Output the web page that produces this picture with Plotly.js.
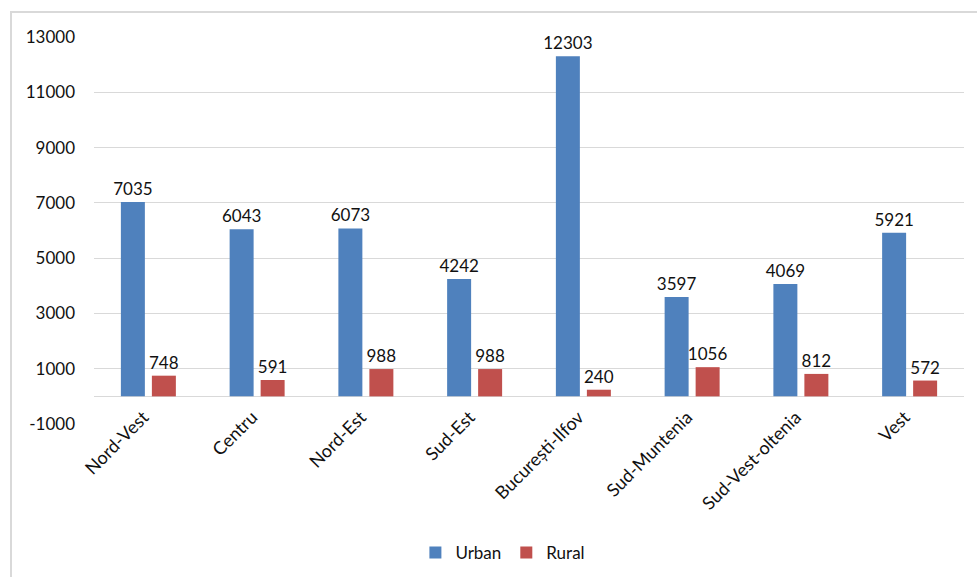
<!DOCTYPE html>
<html>
<head>
<meta charset="utf-8">
<script src="https://cdn.plot.ly/plotly-3.0.1.min.js"></script>
<style>
  html, body { margin: 0; padding: 0; background: #fff; }
  #wrap { position: relative; width: 977px; height: 577px; overflow: hidden; }
  #chart { width: 977px; height: 577px; }
  #frame { position: absolute; left: 10px; top: 11px; width: 1000px; height: 600px;
           border-top: 2px solid #d9d9d9; border-left: 2px solid #d9d9d9; pointer-events: none; }
</style>
</head>
<body>
<div id="wrap">
  <div id="chart"></div>
  <div id="frame"></div>
</div>
<script>
const regions = ["Nord-Vest", "Centru", "Nord-Est", "Sud-Est", "București-Ilfov", "Sud-Muntenia", "Sud-Vest-oltenia", "Vest"];
const urban = [7035, 6043, 6073, 4242, 12303, 3597, 4069, 5921];
const rural = [748, 591, 988, 988, 240, 1056, 812, 572];
const yTicks = [-1000, 1000, 3000, 5000, 7000, 9000, 11000, 13000];

const FONT = "Lato, 'Open Sans', sans-serif";
const labelFont = { family: FONT, size: 17, color: "#111" };
const xFont = { family: FONT, size: 18, color: "#111" };

const common = {
  type: "bar",
  x: regions,
  textposition: "outside",
  textangle: 0,
  constraintext: "none",
  cliponaxis: false,
  textfont: labelFont,
  hoverinfo: "x+y+name"
};

const traces = [
  Object.assign({}, common, { name: "Urban", y: urban, text: urban.map(String), marker: { color: "#4F81BD" } }),
  Object.assign({}, common, { name: "Rural", y: rural, text: rural.map(String), marker: { color: "#C0504D" } })
];

const layout = {
  width: 977, height: 577,
  margin: { l: 94, r: 13, t: 37, b: 153, autoexpand: false },
  paper_bgcolor: "#fff", plot_bgcolor: "#fff",
  barmode: "group",
  bargap: 0.43,
  bargroupgap: 0.226,
  showlegend: true,
  legend: { orientation: "h", x: 0.47, xanchor: "center", y: -0.333, yanchor: "middle",
            font: labelFont, traceorder: "normal" },
  xaxis: {
    anchor: "free", position: 0.0716,
    showgrid: false, showline: false, zeroline: false,
    tickangle: -45, tickfont: xFont, ticks: "", automargin: false,
    ticklabelshift: -5, ticklabelstandoff: 6
  },
  yaxis: {
    range: [-1000, 13000],
    tickmode: "array", tickvals: yTicks, ticktext: yTicks.map(String),
    showgrid: true, gridcolor: "#d9d9d9", gridwidth: 1,
    zeroline: true, zerolinecolor: "#d9d9d9", zerolinewidth: 1.5,
    showline: false, ticks: "", ticklabelstandoff: 18,
    tickfont: labelFont, automargin: false
  }
};

Plotly.newPlot("chart", traces, layout, { displayModeBar: false, staticPlot: true });
</script>
</body>
</html>
